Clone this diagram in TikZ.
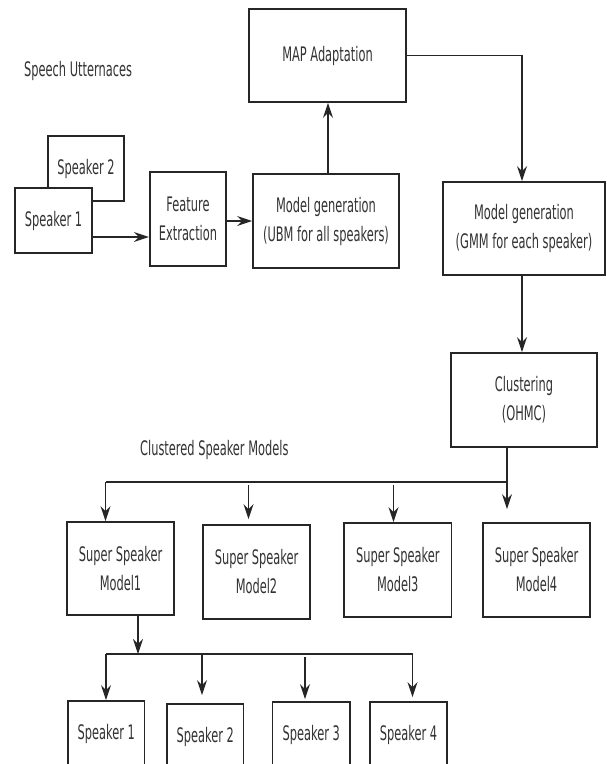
\documentclass[tikz,border=0pt]{standalone}
\usepackage{fontspec}
\setmainfont{DejaVu Sans}[FakeStretch=0.57]
\usetikzlibrary{arrows.meta}
\begin{document}
\begin{tikzpicture}[x=1pt,y=-1pt,
  box/.style={draw=black!85, line width=1.7pt, fill=white, inner sep=0pt, align=center,
    font=\fontsize{20pt}{29pt}\selectfont, text=black!80},
  arr/.style={draw=black!85, line width=1.6pt, -{Stealth[length=15pt,width=10pt,inset=5pt]}},
  ln/.style={draw=black!85, line width=1.6pt},
  lbl/.style={font=\fontsize{20pt}{29pt}\selectfont, text=black!80, inner sep=0pt}]
\useasboundingbox (0,0) rectangle (606,764);

% boxes
\node[box, minimum width=76pt, minimum height=65pt] (sp2) at (86,168.5) {Speaker 2};
\node[box, minimum width=77pt, minimum height=65pt] (sp1) at (53.5,220.5) {Speaker 1};
\node[box, minimum width=76.5pt, minimum height=94pt] (fe) at (188,219) {Feature\\Extraction};
\node[box, minimum width=146pt, minimum height=94pt] (ubm) at (326,221) {Model generation\\(UBM for all speakers)};
\node[box, minimum width=157pt, minimum height=93pt] (map) at (327.5,55.5) {MAP Adaptation};
\node[box, minimum width=162pt, minimum height=93pt] (gmm) at (524,228.5) {Model generation\\(GMM for each speaker)};
\node[box, minimum width=146pt, minimum height=94pt] (clu) at (524,400) {Clustering\\(OHMC)};

\node[box, minimum width=107pt, minimum height=93pt] (ss1) at (120.5,568.5) {Super Speaker\\Model1};
\node[box, minimum width=107pt, minimum height=94pt] (ss2) at (256.5,572) {Super Speaker\\Model2};
\node[box, minimum width=107.5pt, minimum height=94pt] (ss3) at (397.75,570) {Super Speaker\\Model3};
\node[box, minimum width=107pt, minimum height=94pt] (ss4) at (536.5,570) {Super Speaker\\Model4};

\node[box, minimum width=76.6pt, minimum height=66pt] (bs1) at (106.3,734) {Speaker 1};
\node[box, minimum width=76.5pt, minimum height=66pt] (bs2) at (205.25,737) {Speaker 2};
\node[box, minimum width=77.5pt, minimum height=66pt] (bs3) at (311.25,735) {Speaker 3};
\node[box, minimum width=77pt, minimum height=66pt] (bs4) at (408.5,735) {Speaker 4};

% labels
\node[lbl, anchor=west] (t1) at (24,71) {Speech Utternaces};
\node[lbl, anchor=west] (t2) at (140,450) {Clustered Speaker Models};

% upper connectors
\draw[arr] ([yshift=-16.5pt]sp1.east) -- ([yshift=-16.5pt]sp1.east -| fe.west);
\draw[arr] (fe.east |- ubm.west) -- (ubm.west);
\draw[arr] ([xshift=2pt]ubm.north) -- ([xshift=2pt]ubm.north |- map.south);
\draw[arr] (map.east) -| ([xshift=-2pt]gmm.north);
\draw[arr] ([xshift=-2pt]gmm.south) -- ([xshift=-2pt]clu.north);

% clustering bus
\coordinate (j1) at (507,482);
\coordinate (j2) at (105.5,482);
\coordinate (j3) at (248.5,485);
\coordinate (j4) at (393.5,485);
\draw[ln] (clu.south -| j1) -- (j1) -- (j2);
\draw[arr] (j2) -- (j2 |- ss1.north);
\draw[arr, shorten >=5pt] (j3) -- (j3 |- ss2.north);
\draw[arr] (j4) -- (j4 |- ss3.north);
\draw[arr, shorten >=13pt] (j1) -- (j1 |- ss4.north);

% speaker bus
\coordinate (k0) at (106,654);
\coordinate (k1) at (138,654);
\coordinate (k2) at (202,654);
\coordinate (k3) at (305,657);
\coordinate (k4) at (412.5,654);
\draw[arr] (ss1.south -| k1) -- (k1);
\draw[ln] (k0) -- (k4);
\draw[arr] (k0) -- (k0 |- bs1.north);
\draw[arr, shorten >=8pt] (k2) -- (k2 |- bs2.north);
\draw[arr, shorten >=2pt] (k3) -- (k3 |- bs3.north);
\draw[arr, shorten >=4pt] (k4) -- (k4 |- bs4.north);
\end{tikzpicture}
\end{document}
